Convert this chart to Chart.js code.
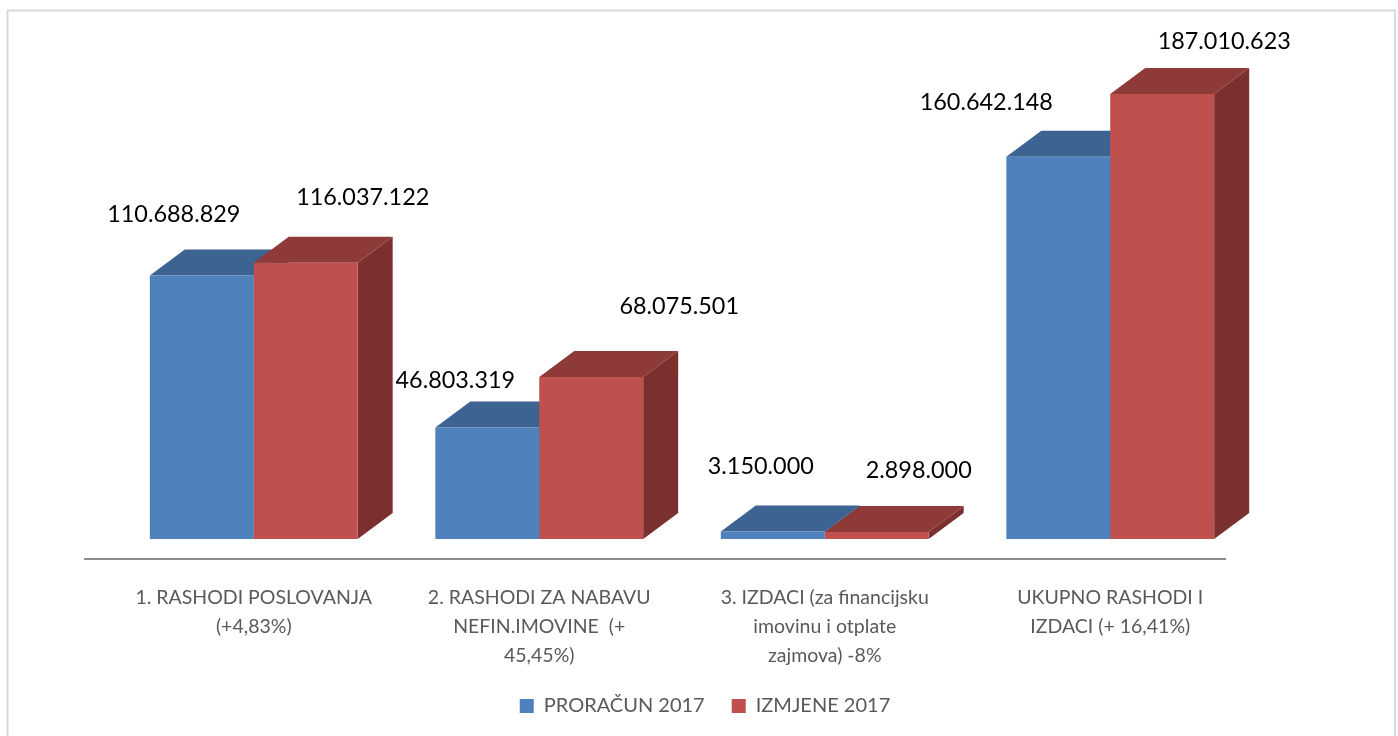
<!DOCTYPE html>
<html>
<head>
<meta charset="utf-8">
<title>Proračun 2017</title>
<script src="https://cdn.jsdelivr.net/npm/chart.js@4/dist/chart.umd.js"></script>
<style>
    html, body { margin: 0; padding: 0; background: #fff; overflow: hidden; }
    canvas { display: block; }
</style>
</head>
<body>
<canvas id="myChart" width="1398" height="736"></canvas>
<script>
const categories = [
    ['1. RASHODI POSLOVANJA', '(+4,83%)'],
    ['2. RASHODI ZA NABAVU', 'NEFIN.IMOVINE  (+', '45,45%)'],
    ['3. IZDACI (za financijsku', 'imovinu i otplate', 'zajmova) -8%'],
    ['UKUPNO RASHODI I', 'IZDACI (+ 16,41%)']
];
const proracun = [110688829, 46803319, 3150000, 160642148];
const izmjene = [116037122, 68075501, 2898000, 187010623];

// where each value label sits relative to the top of its bar
const labelShift = [
    [[-28, -61], [-32, -47], [-12, -65], [-72, -54]],
    [[57, -65], [88, -71], [42, -62], [62, -52]]
];

const FONT = 'Lato';
const depthX = 35;
const depthY = 26;
const faceColors = [
    { top: '#3c6392', side: '#2f4f76' },
    { top: '#8e3a39', side: '#7b302f' }
];

function formatValue(v) {
    return String(v).replace(/\B(?=(\d{3})+$)/g, '.');
}

function poly(ctx, color, pts) {
    ctx.fillStyle = color;
    ctx.beginPath();
    ctx.moveTo(pts[0][0], pts[0][1]);
    for (let i = 1; i < pts.length; i++) {
        ctx.lineTo(pts[i][0], pts[i][1]);
    }
    ctx.closePath();
    ctx.fill();
}

// frame, floor line, and the top and side faces of the bars
const bars3d = {
    id: 'bars3d',
    afterLayout(chart) {
        chart.legend.left += 23;
        chart.legend.right += 23;
    },
    beforeDatasetsDraw(chart) {
        const ctx = chart.ctx;
        const area = chart.chartArea;

        ctx.save();
        ctx.strokeStyle = '#d9d9d9';
        ctx.lineWidth = 2;
        ctx.beginPath();
        ctx.moveTo(7.5, 740);
        ctx.lineTo(7.5, 10.5);
        ctx.lineTo(1395, 10.5);
        ctx.lineTo(1395, 740);
        ctx.stroke();

        ctx.strokeStyle = '#8c8c8c';
        ctx.beginPath();
        ctx.moveTo(area.left - 27, area.bottom + 20);
        ctx.lineTo(area.right - 27, area.bottom + 20);
        ctx.stroke();

        chart.data.datasets.forEach((ds, d) => {
            chart.getDatasetMeta(d).data.forEach(bar => {
                const left = bar.x - bar.width / 2;
                const right = bar.x + bar.width / 2;
                poly(ctx, faceColors[d].side, [
                    [right, bar.y], [right + depthX, bar.y - depthY],
                    [right + depthX, bar.base - depthY], [right, bar.base]
                ]);
                poly(ctx, faceColors[d].top, [
                    [left, bar.y], [left + depthX, bar.y - depthY],
                    [right + depthX, bar.y - depthY], [right, bar.y]
                ]);
            });
        });
        ctx.restore();
    },
    afterDatasetsDraw(chart) {
        const ctx = chart.ctx;
        ctx.save();
        ctx.font = '23.4px ' + FONT;
        ctx.fillStyle = '#000';
        ctx.textAlign = 'center';
        ctx.textBaseline = 'middle';
        chart.data.datasets.forEach((ds, d) => {
            chart.getDatasetMeta(d).data.forEach((bar, i) => {
                const shift = labelShift[d][i];
                ctx.fillText(formatValue(ds.data[i]), bar.x + shift[0], bar.y + shift[1]);
            });
        });
        ctx.restore();
    }
};

new Chart(document.getElementById('myChart'), {
    type: 'bar',
    data: {
        labels: categories,
        datasets: [
            { label: 'PRORAČUN 2017', data: proracun, backgroundColor: '#4f81bd' },
            { label: 'IZMJENE 2017', data: izmjene, backgroundColor: '#c0504d' }
        ]
    },
    plugins: [bars3d],
    options: {
        responsive: false,
        animation: false,
        categoryPercentage: 0.728,
        barPercentage: 1,
        layout: { padding: { left: 111, right: 145, top: 63, bottom: 10 } },
        scales: {
            x: {
                grid: { display: false },
                border: { display: false },
                afterFit(scale) { scale.height = 130; },
                ticks: {
                    autoSkip: false,
                    maxRotation: 0,
                    padding: 36,
                    color: '#595959',
                    font: { family: FONT, size: 19.5, lineHeight: '29px' }
                }
            },
            y: {
                display: false,
                min: 0,
                max: 200000000
            }
        },
        plugins: {
            tooltip: { enabled: false },
            legend: {
                position: 'bottom',
                labels: {
                    boxWidth: 14,
                    boxHeight: 14,
                    padding: 27,
                    color: '#595959',
                    font: { family: FONT, size: 20 }
                }
            }
        }
    }
});
</script>
</body>
</html>
